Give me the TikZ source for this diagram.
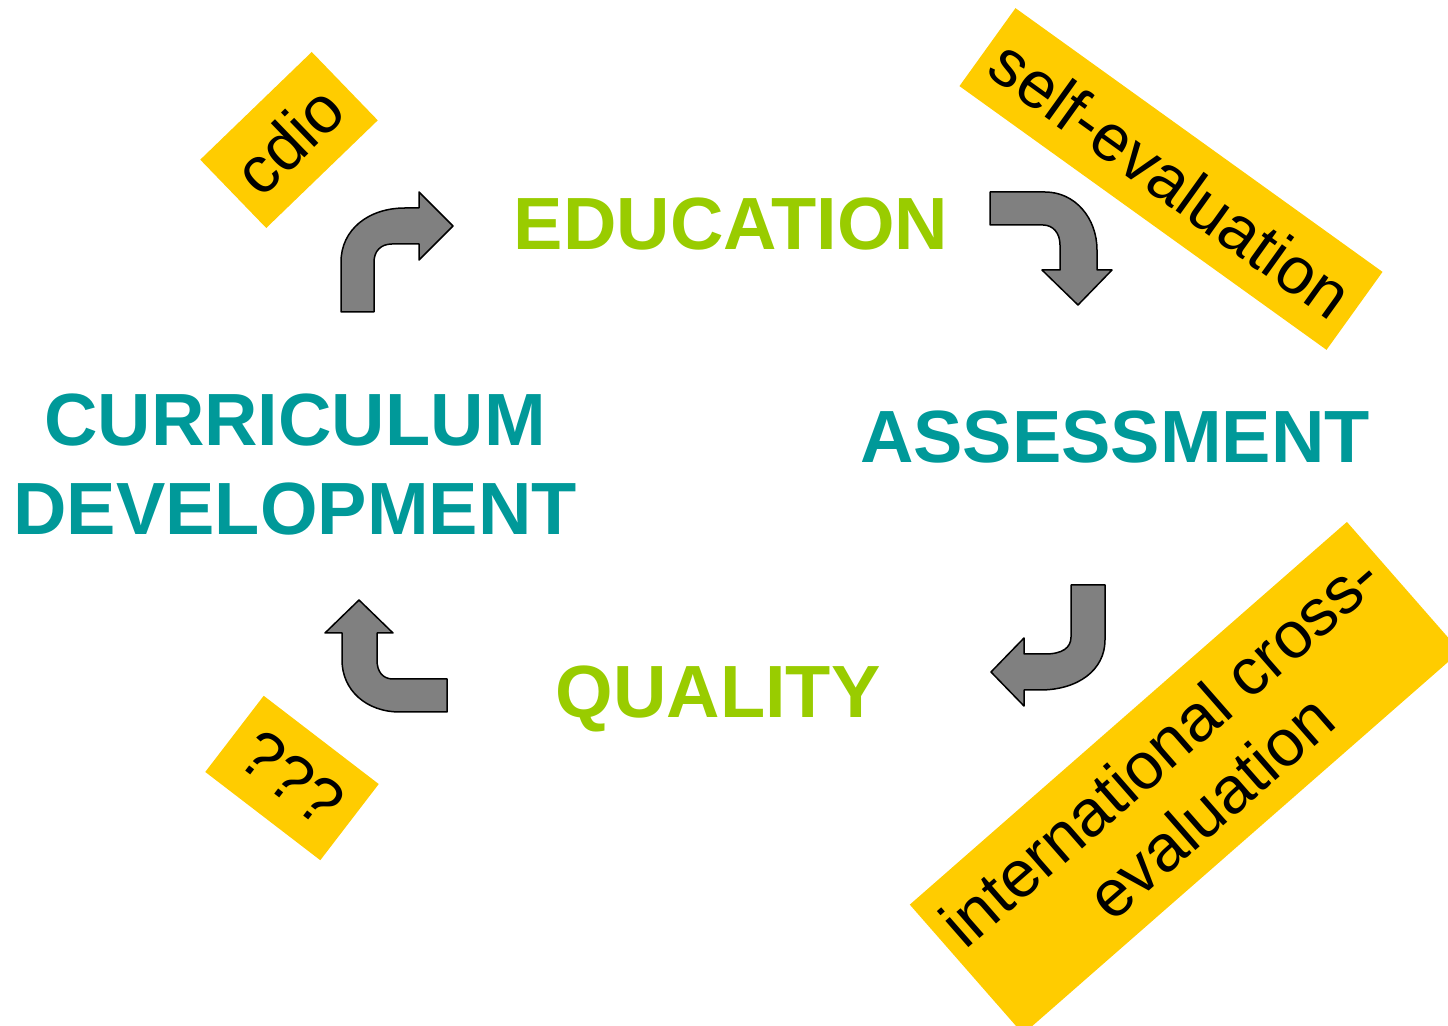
\documentclass[tikz,border=0pt]{standalone}
\usepackage{fontspec}
\setmainfont{Liberation Sans}
\usepackage{xcolor}
\definecolor{leaf}{HTML}{99CC00}
\definecolor{sea}{HTML}{009999}
\definecolor{tagyellow}{HTML}{FFCC00}
\definecolor{arrowgray}{HTML}{808080}

\begin{document}
\begin{tikzpicture}[x=0.5pt,y=-0.5pt,
    heading/.style={font=\fontsize{37}{44.5}\selectfont\bfseries,inner sep=0pt,align=center},
    tag/.style={fill=tagyellow,inner sep=0pt,align=center,font=\fontsize{33}{38}\selectfont},
    bent/.style={fill=arrowgray,draw=black,line width=0.75pt,line join=round}]
    \useasboundingbox (0,0) rectangle (1448,1026);

    % yellow tags
    \node[tag,rotate=44,minimum width=77.5pt,minimum height=47.5pt] (cdio) at (289,140) {cdio};
    \node[tag,rotate=-35.7,minimum width=226pt,minimum height=48pt] (selfeval) at (1171,179) {self-evaluation};
    \node[tag,rotate=-37.5,minimum width=72.5pt,minimum height=48pt] (unknown) at (292,778) {???};
    \node[tag,rotate=41.2,minimum width=290.5pt,minimum height=86pt] (crosseval) at (1185,778) {international cross-\\evaluation};

    % headings
    \node[heading,leaf,anchor=base] (education) at (731,250) {EDUCATION};
    \node[heading,sea,anchor=base] (assessment) at (1115,463) {ASSESSMENT};
    \node[heading,leaf,anchor=base] (quality) at (718,718) {QUALITY};
    \node[heading,sea] (curriculum) at (295,465) {CURRICULUM\\DEVELOPMENT};

    % bent arrows
    \draw[bent] (341,312) -- (341,262) .. controls (341,230) and (368,208) .. (405,208)
        -- (419,208) -- (419,192) -- (453,226) -- (419,260) -- (419,244) -- (392,244)
        .. controls (381,244) and (374,251) .. (374,262) -- (374,312) -- cycle;
    \draw[bent] (990,192) -- (1045,192) .. controls (1075,192) and (1097,218) .. (1097,250)
        -- (1097,270) -- (1112,270) -- (1078,305) -- (1042,270) -- (1060,270) -- (1060,245)
        .. controls (1060,233) and (1053,225) .. (1043,225) -- (990,225) -- cycle;
    \draw[bent] (1071,585) -- (1105,585) -- (1105,640) .. controls (1105,670) and (1078,690) .. (1040,690)
        -- (1024,690) -- (1024,706) -- (991,672) -- (1024,638) -- (1024,654) -- (1045,654)
        .. controls (1062,654) and (1071,648) .. (1071,637) -- cycle;
    \draw[bent] (447,679) -- (447,712) -- (400,712) .. controls (366,712) and (342,690) .. (342,660)
        -- (342,633) -- (325,633) -- (359,600) -- (393,633) -- (377,633) -- (377,660)
        .. controls (377,672) and (383,679) .. (393,679) -- cycle;
\end{tikzpicture}
\end{document}
